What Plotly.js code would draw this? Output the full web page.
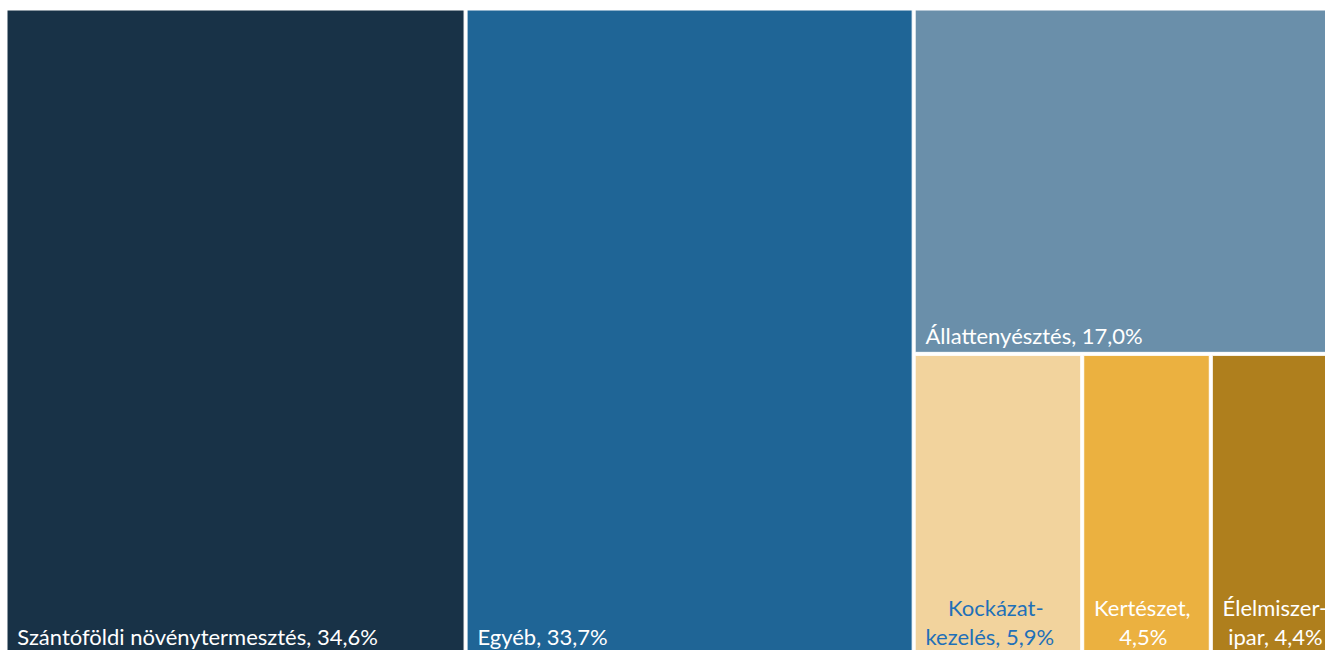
<!DOCTYPE html>
<html><head><meta charset="utf-8">
<script src="https://cdn.plot.ly/plotly-3.0.1.min.js"></script>
<style>html,body{margin:0;padding:0;overflow:hidden;background:#fff}</style>
</head><body><div id="chart"></div>
<script>
// Hierarchy (grp / sub are unlabeled grouping nodes)
const ids = ['szanto', 'egyeb', 'grp', 'allat', 'sub', 'kock', 'kert', 'elel'];
const parents = ['', '', '', 'grp', 'grp', 'sub', 'sub', 'sub'];
const categories = ['Szántóföldi növénytermesztés', 'Egyéb', '', 'Állattenyésztés', '', 'Kockázat-kezelés', 'Kertészet', 'Élelmiszeripar'];
const shares = [34.6, 33.7, 0, 17.0, 0, 5.9, 4.5, 4.4];
// label text as printed (with line breaks for the narrow tiles)
const I = '\u2004';           // inset from the tile edge
const N = '\u00a0';
const labelPrefix = [I + 'Szántóföldi növénytermesztés, ', I + 'Egyéb, ', '', I + 'Állattenyésztés, ', '',
  I + N.repeat(4) + 'Kockázat-<br>' + I + 'kezelés, ',
  I + 'Kertészet,<br>' + I + N.repeat(4) + '\u2009',
  I + 'Élelmiszer-<br>' + I + N + 'ipar, '];
const colors = ['#183247', '#1f6596', '#ffffff', '#6a8faa', '#ffffff', '#f2d39d', '#ebb140', '#af7f1d'];
const textColors = ['#ffffff', '#ffffff', '#ffffff', '#ffffff', '#ffffff', '#1f70b8', '#ffffff', '#ffffff'];

const fmt = v => v.toFixed(1).replace('.', ',') + '%';
const texts = shares.map((v, i) => categories[i] ? labelPrefix[i] + fmt(v) : '');

const trace = {
  type: 'treemap',
  ids: ids,
  parents: parents,
  labels: categories.map((c, i) => c || ids[i]),
  values: shares,
  text: texts,
  texttemplate: texts.map(t => t ? '%{text}' : ''),
  textposition: 'bottom left',
  textfont: {family: 'Lato, "Open Sans", sans-serif', size: 22, color: textColors},
  marker: {colors: colors, line: {color: '#ffffff', width: 1}, pad: {t: 0, l: 0, r: 0, b: 0}},
  tiling: {packing: 'slice-dice', pad: 3},
  pathbar: {visible: false},
  hoverinfo: 'none',
  sort: true
};

Plotly.newPlot('chart', [trace], {
  width: 1335, height: 653,
  margin: {l: 7, t: 10, r: 0, b: 0},
  paper_bgcolor: '#ffffff',
  showlegend: false
}, {displayModeBar: false, staticPlot: true});
</script></body></html>
